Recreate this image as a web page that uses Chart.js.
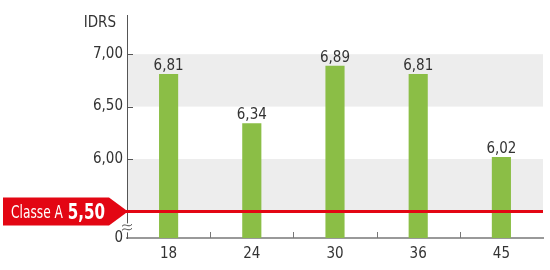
<!DOCTYPE html>
<html>
<head>
<meta charset="utf-8">
<script src="https://cdn.jsdelivr.net/npm/chart.js@4"></script>
<style>
html,body{margin:0;padding:0;background:#fff;}
#wrap{width:550px;height:270px;position:relative;}
</style>
</head>
<body>
<div id="wrap"><canvas id="c" width="550" height="270"></canvas></div>
<script>
const categories = ["18", "24", "30", "36", "45"];
const values = [6.81, 6.34, 6.89, 6.81, 6.02];
const yTicks = [6.00, 6.50, 7.00];
const bands = [[5.50, 6.00], [6.50, 7.00]];
const thresholdValue = 5.50;
const thresholdLabel = "Classe A";
const unitLabel = "IDRS";
const breakLabel = "0";

const FONT = '"Liberation Sans Narrow", "DejaVu Sans Condensed", "Roboto", sans-serif';
const fmt = v => v.toFixed(2).replace('.', ',');

const decor = {
  id: 'decor',
  beforeDatasetsDraw(chart) {
    const {ctx, chartArea: a, scales: {y}} = chart;
    ctx.save();
    ctx.fillStyle = '#ededed';
    bands.forEach(([lo, hi]) => {
      const t = y.getPixelForValue(hi), b = y.getPixelForValue(lo);
      ctx.fillRect(a.left + 1, t, a.right - a.left - 1, b - t);
    });
    ctx.restore();
  },
  afterDatasetsDraw(chart) {
    const {ctx, chartArea: a, scales: {x, y}} = chart;
    ctx.save();
    // value labels
    ctx.fillStyle = '#333';
    ctx.font = '15px ' + FONT;
    ctx.textAlign = 'center';
    ctx.textBaseline = 'alphabetic';
    const meta = chart.getDatasetMeta(0);
    meta.data.forEach((bar, i) => {
      ctx.fillText(fmt(values[i]), bar.x, bar.y - 4);
    });
    // inner ticks on y axis
    ctx.strokeStyle = '#555';
    ctx.lineWidth = 1;
    yTicks.forEach(v => {
      const py = Math.round(y.getPixelForValue(v)) + 0.5;
      ctx.beginPath(); ctx.moveTo(a.left, py); ctx.lineTo(a.left + 6, py); ctx.stroke();
    });
    // inner ticks on x axis between categories
    ctx.strokeStyle = '#777';
    for (let i = 0; i < categories.length - 1; i++) {
      const px = Math.round((x.getPixelForValue(i) + x.getPixelForValue(i + 1)) / 2) + 0.5;
      ctx.beginPath(); ctx.moveTo(px, a.bottom); ctx.lineTo(px, a.bottom - 6); ctx.stroke();
    }
    // threshold line
    const yc = y.getPixelForValue(thresholdValue);
    ctx.strokeStyle = '#e30613';
    ctx.lineWidth = 3;
    ctx.beginPath(); ctx.moveTo(a.left - 10, yc); ctx.lineTo(a.right, yc); ctx.stroke();
    // banner
    ctx.fillStyle = '#e30613';
    ctx.beginPath();
    ctx.moveTo(3, yc - 14);
    ctx.lineTo(a.left - 18, yc - 14);
    ctx.lineTo(a.left + 1, yc);
    ctx.lineTo(a.left - 18, yc + 14);
    ctx.lineTo(3, yc + 14);
    ctx.closePath();
    ctx.fill();
    ctx.fillStyle = '#fff';
    ctx.textAlign = 'left';
    ctx.textBaseline = 'alphabetic';
    ctx.save();
    ctx.translate(11, yc + 7);
    ctx.scale(0.8, 1);
    ctx.font = '17px ' + FONT;
    ctx.fillText(thresholdLabel, 0, 0);
    const w = ctx.measureText(thresholdLabel).width;
    ctx.font = 'bold 21px ' + FONT;
    ctx.fillText(fmt(thresholdValue), w + 6, 1);
    ctx.restore();
    // axis break symbol
    ctx.fillStyle = '#fff';
    ctx.fillRect(a.left - 5, yc + 12, 10, 9);
    ctx.strokeStyle = '#444';
    ctx.lineWidth = 1;
    [yc + 14, yc + 18].forEach(yy => {
      ctx.beginPath();
      ctx.moveTo(a.left - 5, yy + 1);
      ctx.bezierCurveTo(a.left - 2, yy - 3, a.left + 1, yy + 3, a.left + 5, yy - 1);
      ctx.stroke();
    });
    // unit label
    ctx.fillStyle = '#333';
    ctx.font = '15px ' + FONT;
    ctx.textAlign = 'right';
    ctx.textBaseline = 'middle';
    ctx.fillText(unitLabel, a.left - 11, 23);
    ctx.restore();
  }
};

new Chart(document.getElementById('c'), {
  type: 'bar',
  data: {
    labels: categories,
    datasets: [{
      data: values,
      backgroundColor: '#8bbe46',
      barPercentage: 0.23,
      categoryPercentage: 1.0
    }]
  },
  options: {
    responsive: false,
    animation: false,
    devicePixelRatio: 1,
    layout: {padding: {top: 15, right: 7, left: 0, bottom: 0}},
    plugins: {legend: {display: false}, tooltip: {enabled: false}},
    scales: {
      x: {
        grid: {display: false, drawTicks: false},
        border: {display: true, color: '#999', width: 2},
        ticks: {color: '#333', font: {size: 15, family: FONT}, padding: 7},
        afterFit: s => { s.height = 32; }
      },
      y: {
        min: 5.246,
        max: 7.374,
        grid: {display: false, drawTicks: false},
        border: {display: true, color: '#555', width: 1},
        afterBuildTicks: s => { s.ticks = [s.min].concat(yTicks).map(v => ({value: v})); },
        ticks: {
          color: '#333',
          font: {size: 15, family: FONT},
          padding: 4,
          callback: (v, i) => i === 0 ? breakLabel : fmt(v)
        },
        afterFit: s => { s.width = 127; }
      }
    }
  },
  plugins: [decor]
});
</script>
</body>
</html>
